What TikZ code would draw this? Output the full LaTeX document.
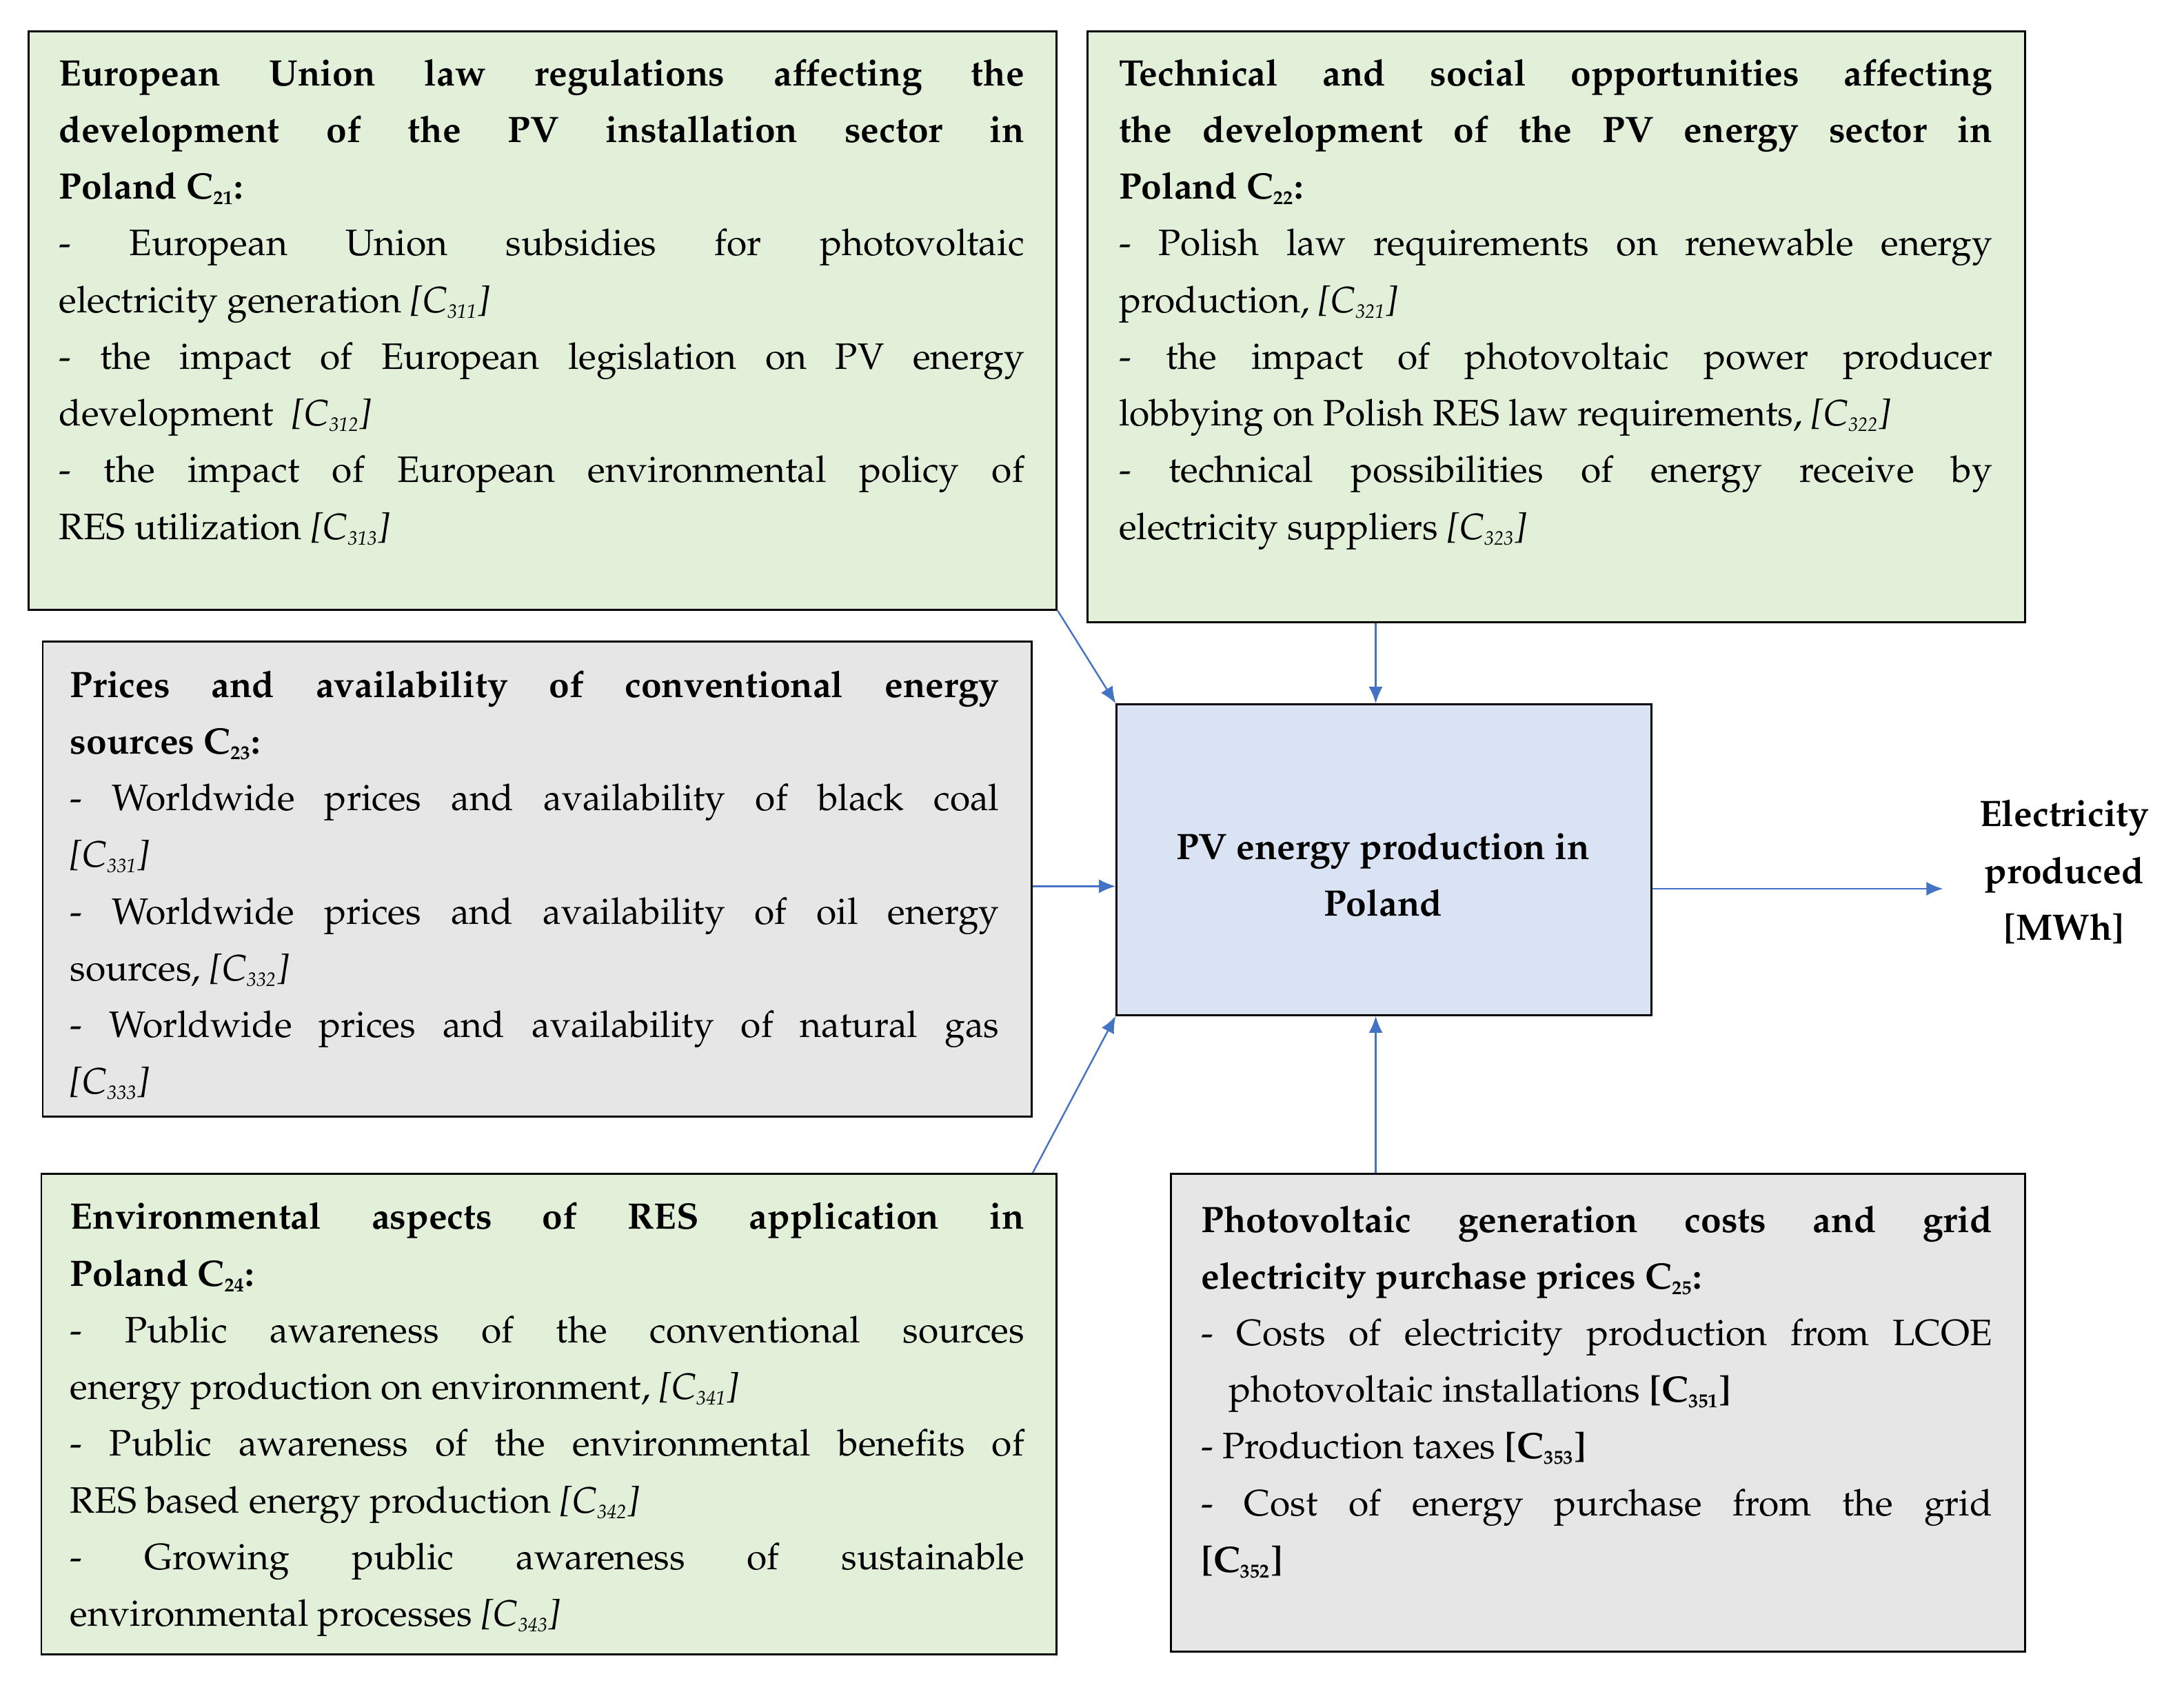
\documentclass[tikz,border=0pt]{standalone}
\usepackage[T1]{fontenc}
\usepackage{mathpazo}
\usetikzlibrary{arrows.meta}
\definecolor{gfill}{HTML}{E2EFD9}
\definecolor{yfill}{HTML}{E7E6E6}
\definecolor{bfill}{HTML}{DAE3F3}
\definecolor{arr}{HTML}{4472C4}
\newcommand\cs[1]{\textsubscript{\scriptsize #1}}
\newcommand\lb{\linebreak}
\newcommand\setpar{\parindent=0pt\relax\hyphenpenalty=10000\relax\exhyphenpenalty=10000\relax}
\tikzset{
 box/.style={draw=black, line width=0.7pt, anchor=north west, inner sep=0pt},
 txt/.style={anchor=north west, inner sep=0pt, align=justify, font=\fontsize{13.2}{20.35}\selectfont},
 con/.style={draw=arr, line width=0.6pt, -{Latex[length=6pt,width=5pt]}}
}
\begin{document}
\begin{tikzpicture}[x=0.5pt,y=-0.5pt]
\useasboundingbox (0,0) rectangle (1568,1208);
\node[box,fill=gfill,minimum width=369pt,minimum height=207.5pt] (b1) at (20,22) {};
\node[box,fill=gfill,minimum width=336.5pt,minimum height=212pt] (b2) at (780,22) {};
\node[box,fill=yfill,minimum width=355pt,minimum height=170.5pt] (b3) at (30,460) {};
\node[box,fill=bfill,minimum width=192pt,minimum height=111.5pt] (c) at (801,505) {};
\node[box,fill=gfill,minimum width=364.5pt,minimum height=172.5pt] (b4) at (29,842) {};
\node[box,fill=yfill,minimum width=306.5pt,minimum height=171.5pt] (b5) at (840,842) {};

\node[txt,text width=346.5pt] (t1) at (42,42) {\setpar
\textbf{European Union law regulations affecting the\lb development of the PV installation sector in\lb Poland C\cs{21}:}\par
- European Union subsidies for photovoltaic\lb electricity generation \textit{[C\cs{311}]}\par
- the impact of European legislation on PV energy\lb development~ \textit{[C\cs{312}]}\par
- the impact of European environmental policy of\lb RES utilization \textit{[C\cs{313}]}};

\node[txt,text width=313.5pt] (t2) at (803,42) {\setpar
\textbf{Technical and social opportunities affecting\lb the development of the PV energy sector in\lb Poland C\cs{22}:}\par
- Polish law requirements on renewable energy\lb production, \textit{[C\cs{321}]}\par
- the impact of photovoltaic power producer\lb lobbying on Polish RES law requirements, \textit{[C\cs{322}]}\par
- technical possibilities of energy receive by\lb electricity suppliers \textit{[C\cs{323}]}};

\node[txt,text width=333.5pt] (t3) at (50,481) {\setpar
\textbf{Prices and availability of conventional energy\lb sources C\cs{23}:}\par
- Worldwide prices and availability of black coal\lb \textit{[C\cs{331}]}\par
- Worldwide prices and availability of oil energy\lb sources, \textit{[C\cs{332}]}\par
- Worldwide prices and availability of natural gas\lb \textit{[C\cs{333}]}};

\node[txt,text width=342.5pt] (t4) at (50,863) {\setpar
\textbf{Environmental aspects of RES application in\lb Poland C\cs{24}:}\par
- Public awareness of the conventional sources\lb energy production on environment, \textit{[C\cs{341}]}\par
- Public awareness of the environmental benefits of\lb RES based energy production \textit{[C\cs{342}]}\par
- Growing public awareness of sustainable\lb environmental processes \textit{[C\cs{343}]}};

\node[txt,text width=284pt] (t5) at (862,865) {\setpar
\textbf{Photovoltaic generation costs and grid\lb electricity purchase prices C\cs{25}:}\par
\hangindent=10pt\hangafter=1 - Costs of electricity production from LCOE\lb photovoltaic installations \textbf{[C\cs{351}]}\par
- Production taxes \textbf{[C\cs{353}]}\par
- Cost of energy purchase from the grid\lb \textbf{[C\cs{352}]}};

\node[align=center,inner sep=0pt,font=\fontsize{13.2}{20.35}\selectfont\bfseries] (ct) at (993,628) {PV energy production in\\Poland};
\node[align=center,inner sep=0pt,font=\fontsize{13.2}{20.35}\selectfont\bfseries] (out) at (1482,626) {Electricity\\produced\\{[MWh]}};
\coordinate (oe) at (1395,638);

\draw[con] (b1.south east) -- (c.north west);
\draw[con] ([xshift=-3pt]c.north |- b2.south) -- ([xshift=-3pt]c.north);
\draw[con] ([yshift=-2.5pt]b3.east) -- ([yshift=-2.5pt]b3.east -| c.west);
\draw[con] ([xshift=-9pt]b4.north east) -- (c.south west);
\draw[con] ([xshift=-3pt]c.south |- b5.north) -- ([xshift=-3pt]c.south);
\draw[con] (c.east |- oe) -- (oe);
\end{tikzpicture}
\end{document}
